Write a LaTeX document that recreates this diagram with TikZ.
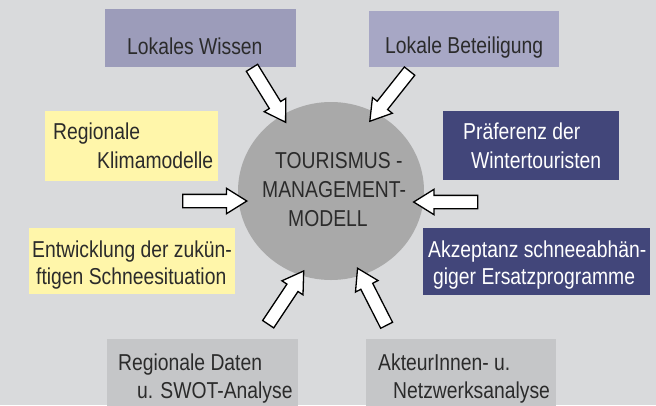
\documentclass[tikz,border=0pt]{standalone}
\usepackage{fontspec}
\setmainfont{Liberation Sans}[FakeStretch=0.84]
\usetikzlibrary{shapes.geometric,shapes.arrows}

\definecolor{bgC}{HTML}{D9DADC}
\definecolor{wissenC}{HTML}{9C9CBA}
\definecolor{beteilC}{HTML}{A7A7C5}
\definecolor{gelbC}{HTML}{FFF6AA}
\definecolor{navyC}{HTML}{42467A}
\definecolor{grauC}{HTML}{C5C6C8}
\definecolor{kreisC}{HTML}{A9A9A9}
\definecolor{textC}{HTML}{2B2B2B}

\tikzset{
  box/.style={rectangle,inner sep=0pt,draw=none},
  txt/.style={anchor=base west,inner sep=0pt,text=textC,font=\fontsize{23}{28}\selectfont},
  wtxt/.style={txt,text=white},
  blockpfeil/.style={single arrow,draw=black,fill=white,line width=1.3pt,
    minimum height=64pt,inner xsep=0pt,inner ysep=6pt,
    single arrow head extend=6pt,single arrow tip angle=64},
}

\begin{document}
\begin{tikzpicture}[x=1pt,y=-1pt]
\useasboundingbox (0,0) rectangle (656,405);
\fill[bgC] (0,0) rectangle (656,405);

% Kasten
\node[box,fill=wissenC,minimum width=191pt,minimum height=58pt] (wissen) at (200.5,38) {};
\node[box,fill=beteilC,minimum width=190pt,minimum height=56pt] (beteiligung) at (464,39) {};
\node[box,fill=gelbC,minimum width=173pt,minimum height=70pt] (klima) at (131.5,146) {};
\node[box,fill=navyC,minimum width=176pt,minimum height=69pt] (praeferenz) at (531,145.5) {};
\node[box,fill=gelbC,minimum width=206pt,minimum height=66pt] (schnee) at (132,261) {};
\node[box,fill=navyC,minimum width=227pt,minimum height=67pt] (akzeptanz) at (536.5,261.5) {};
\node[box,fill=grauC,minimum width=191pt,minimum height=68pt] (daten) at (202.5,373) {};
\node[box,fill=grauC,minimum width=190pt,minimum height=68pt] (akteure) at (461,373) {};
\node[ellipse,fill=kreisC,inner sep=0pt,minimum width=186pt,minimum height=178pt] (tmm) at (331,191) {};

% Texte
\node[txt] (wissen1) at (127,54) {Lokales Wissen};
\node[txt] (beteiligung1) at (385,53) {Lokale Beteiligung};
\node[txt] (klima1) at (53,139) {Regionale};
\node[txt] (klima2) at (97,168) {Klimamodelle};
\node[wtxt] (praeferenz1) at (463,139) {Präferenz der};
\node[wtxt] (praeferenz2) at (471,168) {Wintertouristen};
\node[txt] (schnee1) at (32,257) {Entwicklung der zukün-};
\node[txt] (schnee2) at (36,284) {ftigen Schneesituation};
\node[wtxt] (akzeptanz1) at (428,257) {Akzeptanz schneeabhän-};
\node[wtxt] (akzeptanz2) at (433,284) {giger Ersatzprogramme};
\node[txt] (daten1) at (118,370) {Regionale Daten};
\node[txt] (daten2) at (137,398) {u. SWOT-Analyse};
\node[txt] (akteure1) at (378,370) {AkteurInnen- u.};
\node[txt] (akteure2) at (393,398) {Netzwerksanalyse};
\node[txt] (tmm1) at (275,168) {TOURISMUS -};
\node[txt] (tmm2) at (262,197) {MANAGEMENT-};
\node[txt] (tmm3) at (288,226) {MODELL};

% Pfeile
\node[blockpfeil,rotate=-58.3] (pf1) at (266,90.5) {};
\node[blockpfeil,rotate=-128.4] (pf2) at (393,92) {};
\node[blockpfeil,rotate=0] (pf3) at (209.5,201) {};
\node[blockpfeil,rotate=180] (pf4) at (451,202) {};
\node[blockpfeil,rotate=56.3] (pf5) at (283,302) {};
\node[blockpfeil,rotate=117] (pf6) at (374.5,301.5) {};
\end{tikzpicture}
\end{document}
